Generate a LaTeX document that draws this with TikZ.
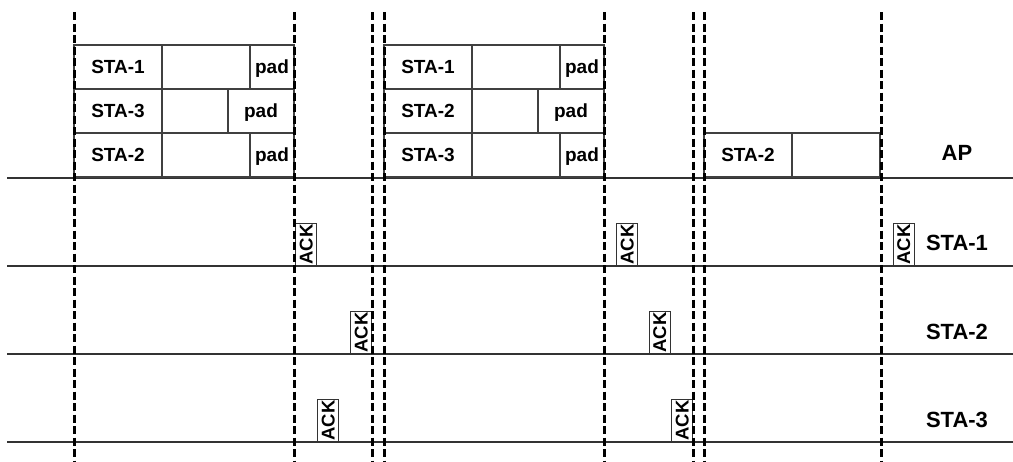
\documentclass[tikz,border=0pt]{standalone}
\usepackage{fontspec}
\setmainfont{Liberation Sans}
\usetikzlibrary{positioning}
\tikzset{
  framebox/.style={rectangle, draw=black!75, line width=1.2pt, outer sep=0pt,
                   inner sep=0pt, minimum height=44pt,
                   text height=13.5pt, text depth=0pt,
                   font=\fontsize{19}{21}\selectfont\bfseries},
  stabox/.style={framebox, minimum width=88pt},
  databox/.style={framebox, minimum width=88pt},
  shortbox/.style={framebox, minimum width=66pt},
  padbox/.style={framebox, minimum width=44pt},
  widepad/.style={framebox, minimum width=66pt},
  ackbox/.style={rectangle, draw=black!80, line width=1pt, rotate=90,
                 inner sep=0pt, minimum width=43pt, minimum height=21pt,
                 text height=13pt, text depth=0pt,
                 font=\fontsize{18.5}{20}\selectfont\bfseries},
  rowlabel/.style={font=\fontsize{22}{24}\selectfont\bfseries},
  slotline/.style={black, line width=3pt, dash pattern=on 8pt off 3.5pt},
  axisline/.style={black!80, line width=1.2pt},
}

\begin{document}
\begin{tikzpicture}[x=1pt, y=-1pt]
  \useasboundingbox (0,0) rectangle (1013,461);

  % --- Time axes ---
  \foreach \y in {178,266,354,442}
    \draw[axisline] (7,\y) -- (1013,\y);

  % --- First downlink frame ---
  \node[stabox, anchor=north west] (s1a) at (74,45) {STA-1};
  \node[databox, right=0pt of s1a] (d1a) {};
  \node[padbox, right=0pt of d1a] (p1a) {pad};
  \node[stabox, below=0pt of s1a] (s3a) {STA-3};
  \node[shortbox, right=0pt of s3a] (d3a) {};
  \node[widepad, right=0pt of d3a] (p3a) {pad};
  \node[stabox, below=0pt of s3a] (s2a) {STA-2};
  \node[databox, right=0pt of s2a] (d2a) {};
  \node[padbox, right=0pt of d2a] (p2a) {pad};

  % --- Second downlink frame ---
  \node[stabox, anchor=north west] (s1b) at (384,45) {STA-1};
  \node[databox, right=0pt of s1b] (d1b) {};
  \node[padbox, right=0pt of d1b] (p1b) {pad};
  \node[stabox, below=0pt of s1b] (s2b) {STA-2};
  \node[shortbox, right=0pt of s2b] (d2b) {};
  \node[widepad, right=0pt of d2b] (p2b) {pad};
  \node[stabox, below=0pt of s2b] (s3b) {STA-3};
  \node[databox, right=0pt of s3b] (d3b) {};
  \node[padbox, right=0pt of d3b] (p3b) {pad};

  % --- Third downlink frame ---
  \node[stabox, anchor=north west] (s2c) at (704,133) {STA-2};
  \node[databox, right=0pt of s2c] (d2c) {};

  % --- Acknowledgements ---
  \node[ackbox] (ack1a) at (306,244.5) {ACK};
  \node[ackbox] (ack2a) at (361,332.5) {ACK};
  \node[ackbox] (ack3a) at (328,420.5) {ACK};
  \node[ackbox] (ack1b) at (627,244.5) {ACK};
  \node[ackbox] (ack2b) at (659.5,332.5) {ACK};
  \node[ackbox] (ack3b) at (682,420.5) {ACK};
  \node[ackbox] (ack1c) at (903.5,244.5) {ACK};

  % --- Row labels ---
  \node[rowlabel] (apl) at (957,153) {AP};
  \node[rowlabel] (sta1l) at (957,243) {STA-1};
  \node[rowlabel] (sta2l) at (957,332) {STA-2};
  \node[rowlabel] (sta3l) at (957,420) {STA-3};

  % --- Slot boundaries ---
  \foreach \x in {74,294,372,384,604,693,704,881}
    \draw[slotline] (\x,12) -- (\x,461);
\end{tikzpicture}
\end{document}
